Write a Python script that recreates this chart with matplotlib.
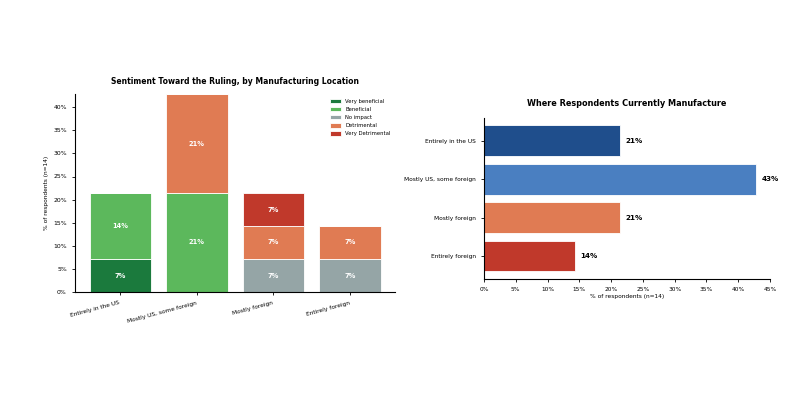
import numpy as np
import matplotlib
matplotlib.use("Agg")
import matplotlib.pyplot as plt
from matplotlib.ticker import PercentFormatter

n = 14
locations = ["Entirely in the US", "Mostly US, some foreign", "Mostly foreign", "Entirely foreign"]
sentiments = ["Very beneficial", "Beneficial", "No impact", "Detrimental", "Very Detrimental"]
sent_colors = ["#1b7a3d", "#5cb85c", "#95a5a6", "#e07b53", "#c0392b"]

# respondent counts per location, one list per sentiment
very_beneficial = [1, 0, 0, 0]
beneficial = [2, 3, 0, 0]
no_impact = [0, 0, 1, 1]
detrimental = [0, 3, 1, 1]
very_detrimental = [0, 0, 1, 0]

loc_counts = [3, 6, 3, 2]
loc_colors = ["#1f4e8c", "#4a7fc1", "#e07b53", "#c0392b"]

fig = plt.figure(figsize=(8, 4), dpi=100)
ax1 = fig.add_axes([0.094, 0.27, 0.4, 0.495])
ax2 = fig.add_axes([0.605, 0.303, 0.3575, 0.402])

# left: stacked sentiment bars
x = np.arange(len(locations))
bottom = np.zeros(len(locations))
for name, col, vals in zip(sentiments, sent_colors,
                           [very_beneficial, beneficial, no_impact, detrimental, very_detrimental]):
    pct = np.array(vals) / n * 100
    ax1.bar(x, pct, 0.8, bottom=bottom, color=col, edgecolor="white", linewidth=0.6, label=name)
    for xi, b, p in zip(x, bottom, pct):
        if p > 0:
            ax1.text(xi, b + p / 2, f"{p:.0f}%", ha="center", va="center",
                     color="white", fontsize=4.8, fontweight="bold")
    bottom += pct

ax1.set_ylim(0, bottom.max())
ax1.set_xticks(x)
ax1.set_xticklabels(locations, rotation=15, ha="right", fontsize=4.2)
ax1.yaxis.set_major_formatter(PercentFormatter(decimals=0))
ax1.tick_params(axis="y", labelsize=4.4)
ax1.tick_params(length=2.5, width=0.6)
ax1.set_ylabel("% of respondents (n=14)", fontsize=4.2, labelpad=3)
ax1.set_title("Sentiment Toward the Ruling, by Manufacturing Location", fontsize=5.5, fontweight="bold", pad=7)
ax1.legend(frameon=False, fontsize=3.8, loc="upper right", handlelength=2.0, handleheight=0.9,
           labelspacing=0.6)
for s in ["top", "right"]:
    ax1.spines[s].set_visible(False)

# right: where respondents manufacture
pct2 = np.array(loc_counts) / n * 100
y = np.arange(len(locations))
ax2.barh(y, pct2, 0.8, color=loc_colors, edgecolor="white", linewidth=0.6)
for yi, p in zip(y, pct2):
    ax2.text(p + 0.8, yi, f"{p:.0f}%", va="center", ha="left", fontsize=5.2, fontweight="bold")
ax2.set_yticks(y)
ax2.set_yticklabels(locations, fontsize=4.2)
ax2.invert_yaxis()
ax2.set_xlim(0, 45)
ax2.set_xticks(np.arange(0, 46, 5))
ax2.xaxis.set_major_formatter(PercentFormatter(decimals=0))
ax2.tick_params(axis="x", labelsize=4.2)
ax2.tick_params(length=2.5, width=0.6)
ax2.set_xlabel("% of respondents (n=14)", fontsize=4.2, labelpad=1)
ax2.set_title("Where Respondents Currently Manufacture", fontsize=5.85, fontweight="bold", pad=9)
for s in ["top", "right"]:
    ax2.spines[s].set_visible(False)

fig.savefig("out.png", dpi=100)
